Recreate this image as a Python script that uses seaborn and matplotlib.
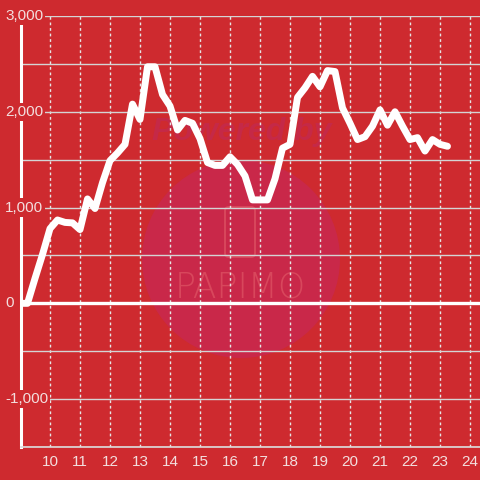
import numpy as np
import pandas as pd
import matplotlib
matplotlib.use("Agg")
import matplotlib.pyplot as plt
import seaborn as sns
from matplotlib.patches import Circle, FancyBboxPatch

# 15-minute readings
times = ["9:00", "9:15", "9:30", "9:45",
         "10:00", "10:15", "10:30", "10:45",
         "11:00", "11:15", "11:30", "11:45",
         "12:00", "12:15", "12:30", "12:45",
         "13:00", "13:15", "13:30", "13:45",
         "14:00", "14:15", "14:30", "14:45",
         "15:00", "15:15", "15:30", "15:45",
         "16:00", "16:15", "16:30", "16:45",
         "17:00", "17:15", "17:30", "17:45",
         "18:00", "18:15", "18:30", "18:45",
         "19:00", "19:15", "19:30", "19:45",
         "20:00", "20:15", "20:30", "20:45",
         "21:00", "21:15", "21:30", "21:45",
         "22:00", "22:15", "22:30", "22:45",
         "23:00", "23:15"]
values = [0, 0, 260, 510,
          780, 870, 845, 840,
          770, 1090, 990, 1260,
          1490, 1570, 1660, 2080,
          1920, 2470, 2470, 2180,
          2060, 1810, 1910, 1880,
          1720, 1470, 1440, 1440,
          1530, 1450, 1330, 1080,
          1080, 1080, 1300, 1620,
          1660, 2150, 2250, 2370,
          2260, 2430, 2420, 2040,
          1880, 1710, 1740, 1850,
          2020, 1860, 2000, 1850,
          1710, 1730, 1590, 1710,
          1660, 1640]

x_ticks = list(range(10, 25))
y_labels = [3000, 2000, 1000, 0, -1000]
y_minor = [2500, 1500, 500, -500, -1500]

bg = "#ce2a2f"
txt = "#f3dede"

hours = [int(t.split(":")[0]) + int(t.split(":")[1]) / 60 for t in times]
df = pd.DataFrame({"hour": hours, "diff": values})

sns.set_theme(style="white")
plt.rcParams['font.family'] = ['Liberation Sans', 'DejaVu Sans']

fig = plt.figure(figsize=(4.8, 4.8), dpi=100, facecolor=bg)
ax = fig.add_axes([21 / 480, 33 / 480, 459 / 480, 431 / 480])
ax.set_facecolor("none")

# faint watermark behind the plot
fig.patches.append(Circle((241 / 480, 1 - 259 / 480), 99 / 480, transform=fig.transFigure,
                          facecolor="#c92849", edgecolor="none", zorder=-2))
fig.patches.append(FancyBboxPatch((225 / 480, 1 - 257 / 480), 30 / 480, 50 / 480,
                                  boxstyle="round,pad=0,rounding_size=0.008",
                                  transform=fig.transFigure, facecolor="none",
                                  edgecolor="#d8475c", lw=1.4, zorder=-1))
fig.text(242 / 480, 1 - 132 / 480, "Powered by", fontsize=23, weight="bold", style="italic",
         color="#c52947", ha="center", va="center", zorder=-1)
fig.text(240 / 480, 1 - 288 / 480, "PAPIMO", fontsize=25, color="#d8475c",
         family="DejaVu Sans", weight="light", ha="center", va="center", zorder=-1)

ax.axhline(0, color="white", lw=2.4, zorder=2)
sns.lineplot(data=df, x="hour", y="diff", color="white", lw=5, ax=ax, zorder=4)

ax.set_xlim(9.0333, 24.3333)
ax.set_ylim(-1500, 3000)
ax.set_xticks(x_ticks)
ax.set_yticks(y_labels)
ax.set_yticks(y_minor, minor=True)
ax.set_yticklabels([])
ax.grid(axis="y", which="both", color="#d4d4d4", lw=1)
ax.grid(axis="x", which="major", color="#e6e6e6", lw=1, linestyle=(0, (2, 2)))
ax.tick_params(axis="x", length=0, pad=6, labelsize=11, labelcolor=txt)
ax.tick_params(axis="y", which="both", length=0)
ax.set_xlabel("")
ax.set_ylabel("")

for s in ["top", "right"]:
    ax.spines[s].set_visible(False)
ax.spines["left"].set_color("white")
ax.spines["left"].set_linewidth(2.2)
ax.spines["bottom"].set_color("#dcdcdc")
ax.spines["bottom"].set_linewidth(1.2)

for v in y_labels:
    ax.text(-16 / 459, v, f"{v:,}", transform=ax.get_yaxis_transform(), ha="left", va="center",
            fontsize=11, color=txt, clip_on=False, zorder=5,
            bbox=dict(facecolor=bg, edgecolor="none", pad=1.5))

fig.savefig("out.png", dpi=100, facecolor=bg)
